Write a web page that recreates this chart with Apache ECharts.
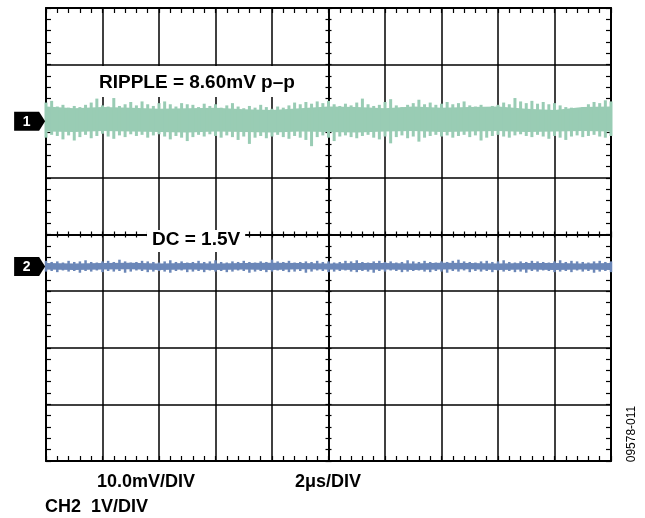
<!DOCTYPE html>
<html>
<head>
<meta charset="utf-8">
<script src="https://cdn.jsdelivr.net/npm/echarts@6/dist/echarts.min.js"></script>
<style>
html,body{margin:0;padding:0;background:#fff;}
#c{width:645px;height:518px;}
</style>
</head>
<body>
<div id="c"></div>
<script>
// ---------------- DATA ----------------
// Channel 1 (ripple, 10.0 mV/DIV): peak extents in mV about the channel reference, one sample every 0.1 DIV (2 µs/DIV)
const ch1Hi = [3.3,3.6,2.6,2.9,2.4,2.7,2.5,2.9,3.3,4.0,
  2.8,2.6,4.1,2.7,3.0,3.4,2.8,3.5,3.0,2.7,
  3.2,3.5,3.0,2.6,3.2,3.0,2.9,2.5,3.1,2.7,
  3.0,2.4,2.8,3.2,2.6,2.3,2.7,2.4,2.9,2.5,
  2.2,2.6,2.4,2.8,3.3,3.0,3.4,3.1,3.5,3.2,
  3.6,3.0,2.7,3.1,2.8,3.3,4.0,3.0,2.7,2.9,
  3.4,3.9,2.8,2.5,2.9,3.2,3.8,3.0,3.3,2.9,
  3.1,3.4,3.0,3.2,3.5,2.8,2.6,2.9,2.5,2.7,
  2.9,3.3,3.0,4.1,3.5,3.2,3.6,3.1,3.4,3.0,
  3.2,2.8,2.5,2.4,2.2,2.5,3.0,3.4,3.2,3.7,3.5];
const ch1Lo = [-2.9,-2.4,-2.6,-3.2,-2.5,-3.4,-2.8,-2.4,-3.0,-2.6,
  -2.2,-2.7,-3.1,-2.5,-2.8,-2.3,-2.6,-2.4,-2.9,-2.5,
  -2.3,-2.7,-3.2,-2.6,-2.9,-3.5,-2.8,-2.4,-2.7,-2.3,
  -2.6,-2.9,-2.5,-2.8,-3.3,-2.7,-4.0,-2.9,-2.6,-3.0,
  -2.7,-2.4,-2.8,-3.1,-2.6,-2.9,-3.3,-4.4,-2.8,-2.5,
  -2.9,-3.5,-2.7,-2.5,-2.8,-3.0,-2.6,-2.4,-2.9,-3.2,
  -2.7,-3.9,-2.8,-2.5,-3.0,-2.7,-3.6,-2.9,-2.6,-2.4,
  -2.7,-2.5,-2.9,-2.6,-2.4,-2.8,-2.5,-3.4,-2.9,-2.6,
  -2.4,-2.7,-2.9,-2.5,-2.3,-2.6,-2.8,-2.4,-2.7,-3.1,
  -2.6,-2.9,-3.3,-2.7,-2.5,-2.8,-2.6,-2.4,-2.7,-2.9,-2.6];
// Channel 1 dense core band (mV), one value every 0.5 DIV
const ch1CoreHi = [2.6,2.3,2.5,2.4,2.2,2.3,2.4,2.1,2.0,2.3,2.6,2.5,2.3,2.6,2.4,2.5,2.6,2.2,2.0,2.5,2.6];
const ch1CoreLo = [-1.8,-1.9,-1.7,-1.8,-1.9,-2.0,-1.8,-1.9,-2.0,-1.8,-1.9,-2.0,-1.8,-1.7,-1.9,-1.8,-1.7,-1.9,-1.8,-1.7,-1.8];

// Channel 2 (DC = 1.5 V, 1 V/DIV): peak extents in volts, one sample every 0.1 DIV
const ch2Hi = [1.60,1.58,1.59,1.57,1.60,1.58,1.59,1.61,1.58,1.57,
  1.59,1.60,1.58,1.62,1.59,1.57,1.58,1.60,1.59,1.58,
  1.57,1.59,1.61,1.58,1.59,1.57,1.58,1.60,1.58,1.59,
  1.61,1.58,1.57,1.59,1.58,1.60,1.58,1.57,1.59,1.58,
  1.62,1.59,1.58,1.60,1.57,1.58,1.59,1.58,1.60,1.58,
  1.59,1.57,1.58,1.60,1.59,1.61,1.58,1.57,1.59,1.60,
  1.58,1.59,1.57,1.58,1.61,1.59,1.58,1.60,1.58,1.57,
  1.59,1.58,1.60,1.62,1.59,1.58,1.57,1.59,1.60,1.58,
  1.59,1.61,1.58,1.57,1.59,1.58,1.60,1.59,1.58,1.57,
  1.59,1.61,1.58,1.60,1.59,1.58,1.57,1.59,1.60,1.58,1.59];
const ch2Lo = [1.41,1.42,1.40,1.43,1.41,1.42,1.39,1.42,1.41,1.43,
  1.40,1.42,1.41,1.42,1.39,1.41,1.43,1.42,1.40,1.41,
  1.42,1.41,1.39,1.42,1.43,1.40,1.41,1.42,1.40,1.43,
  1.41,1.42,1.40,1.41,1.43,1.42,1.39,1.41,1.42,1.40,
  1.41,1.43,1.42,1.40,1.41,1.42,1.39,1.41,1.43,1.42,
  1.40,1.41,1.42,1.43,1.41,1.40,1.42,1.41,1.39,1.42,
  1.41,1.43,1.42,1.40,1.41,1.42,1.43,1.41,1.40,1.42,
  1.41,1.39,1.42,1.41,1.43,1.40,1.42,1.41,1.42,1.40,
  1.43,1.41,1.42,1.40,1.41,1.39,1.42,1.41,1.43,1.42,
  1.40,1.41,1.42,1.40,1.43,1.41,1.42,1.39,1.41,1.42,1.40];
const ch2CoreHi = [1.56,1.555,1.56,1.565,1.555,1.56,1.555,1.56,1.565,1.56,1.555,1.56,1.56,1.555,1.565,1.56,1.555,1.56,1.56,1.555,1.56];
const ch2CoreLo = [1.445,1.44,1.445,1.45,1.44,1.445,1.44,1.445,1.44,1.45,1.445,1.44,1.445,1.44,1.445,1.45,1.44,1.445,1.44,1.445,1.44];

// Channel settings / reference levels (in divisions from screen centre)
const channelNames = ['1','2'];
const channelRefDiv = [2.0, -0.565];
const ch1MvPerDiv = 10;
const ch2VoltsPerDiv = 1;
const ch2Dc = 1.5;

// Labels
const rippleLabel = 'RIPPLE = 8.60mV p–p';
const dcLabel = 'DC = 1.5V';
const ch1ScaleLabel = '10.0mV/DIV';
const timeLabel = '2μs/DIV';
const ch2ScaleLabel = 'CH2  1V/DIV';
const figureId = '09578-011';
const xDivs = 10, yDivs = 8;

// ---------------- BUILD ----------------
const toDiv1 = v => channelRefDiv[0] + v / ch1MvPerDiv;
const toDiv2 = v => channelRefDiv[1] + (v - ch2Dc) / ch2VoltsPerDiv;
function mk(hi, lo, conv) {
  const n = hi.length;
  return hi.map((h, i) => [i * xDivs / (n - 1), conv(lo[i]), conv(h)]);
}
const ch1Spikes = mk(ch1Hi, ch1Lo, toDiv1);
const ch1Core = mk(ch1CoreHi, ch1CoreLo, toDiv1);
const ch2Spikes = mk(ch2Hi, ch2Lo, toDiv2);
const ch2Core = mk(ch2CoreHi, ch2CoreLo, toDiv2);

const GREEN = '#99ccb4';
const BLUE = '#6b87b8';
const FONT = 'Arial, "Liberation Sans", Helvetica, sans-serif';

function bandRender(color) {
  return function (params, api) {
    if (params.dataIndex !== 0) return null;
    const n = params.dataInsideLength;
    const top = [], bot = [];
    for (let i = 0; i < n; i++) {
      top.push(api.coord([api.value(0, i), api.value(2, i)]));
      bot.push(api.coord([api.value(0, i), api.value(1, i)]));
    }
    return {type: 'polygon', shape: {points: top.concat(bot.reverse())}, style: {fill: color}};
  };
}
function spikeRender(color, w) {
  return function (params, api) {
    const a = api.coord([api.value(0), api.value(1)]);
    const b = api.coord([api.value(0), api.value(2)]);
    return {type: 'line', shape: {x1: a[0], y1: a[1], x2: b[0], y2: b[1]}, style: {stroke: color, lineWidth: w}};
  };
}

const rect = {left: 46, top: 8, width: 565, height: 453};
function ax(extra) {
  return Object.assign({
    type: 'value', axisLabel: {show: false},
    axisLine: {show: true, onZero: false, lineStyle: {color: '#000', width: 2}},
    axisTick: {show: true, inside: true, length: 5, lineStyle: {color: '#000', width: 1.2}},
    minorTick: {show: true, splitNumber: 5, length: 5, lineStyle: {color: '#000', width: 1.2}},
    splitLine: {show: false}
  }, extra);
}
function cax(extra, inside) {
  return Object.assign({
    type: 'value', axisLabel: {show: false},
    axisLine: {show: true, onZero: true, lineStyle: {color: '#000', width: 1.5}},
    axisTick: {show: true, inside: inside, length: 3, lineStyle: {color: '#000', width: 1.2}},
    minorTick: {show: true, splitNumber: 5, length: 3, lineStyle: {color: '#000', width: 1.2}},
    splitLine: {show: false}
  }, extra);
}
const split = {show: true, lineStyle: {color: '#000', width: 1.5}};

const txt = (size) => ({fontFamily: FONT, fontSize: size, fontWeight: 'bold', color: '#000'});

const option = {
  backgroundColor: '#fff',
  animation: false,
  grid: [Object.assign({}, rect), Object.assign({}, rect), Object.assign({}, rect)],
  xAxis: [
    ax({gridIndex: 0, position: 'bottom', min: 0, max: xDivs, interval: 1, splitLine: split}),
    ax({gridIndex: 0, position: 'top', min: 0, max: xDivs, interval: 1}),
    cax({gridIndex: 1, min: -xDivs / 2, max: xDivs / 2, interval: 1}, true),
    cax({gridIndex: 2, min: -xDivs / 2, max: xDivs / 2, interval: 1}, false)
  ],
  yAxis: [
    ax({gridIndex: 0, position: 'left', min: -yDivs / 2, max: yDivs / 2, interval: 1, splitLine: split}),
    ax({gridIndex: 0, position: 'right', min: -yDivs / 2, max: yDivs / 2, interval: 1}),
    cax({gridIndex: 1, min: -yDivs / 2, max: yDivs / 2, interval: 1}, true),
    cax({gridIndex: 2, min: -yDivs / 2, max: yDivs / 2, interval: 1}, false)
  ],
  title: [
    {text: rippleLabel, left: 93, top: 66, padding: [7, 6, 5, 6], backgroundColor: '#fff', textStyle: txt(19)},
    {text: dcLabel, left: 147, top: 230, padding: [0, 5, 3, 5], backgroundColor: '#fff', textStyle: txt(19)},
    {text: ch1ScaleLabel, left: 97, top: 473, padding: 0, textStyle: txt(18)},
    {text: timeLabel, left: 295, top: 473, padding: 0, textStyle: txt(18)},
    {text: ch2ScaleLabel, left: 45, top: 498, padding: 0, textStyle: txt(18)}
  ],
  graphic: [
    {type: 'text', x: 632, y: 434, rotation: Math.PI / 2,
     style: {text: figureId, font: '12px ' + FONT, fill: '#000', align: 'center', verticalAlign: 'middle'}}
  ],
  series: [
    {type: 'custom', xAxisIndex: 0, yAxisIndex: 0, data: ch1Core, renderItem: bandRender(GREEN), z: 3},
    {type: 'custom', xAxisIndex: 0, yAxisIndex: 0, data: ch1Spikes, renderItem: spikeRender(GREEN, 3), z: 3},
    {type: 'custom', xAxisIndex: 0, yAxisIndex: 0, data: ch2Core, renderItem: bandRender(BLUE), z: 3},
    {type: 'custom', xAxisIndex: 0, yAxisIndex: 0, data: ch2Spikes, renderItem: spikeRender(BLUE, 2.5), z: 3},
    {type: 'scatter', xAxisIndex: 0, yAxisIndex: 0, clip: false, z: 5,
     symbol: 'path://M0,0 L25,0 L31,9.5 L25,19 L0,19 Z', symbolSize: [31, 19],
     itemStyle: {color: '#000', opacity: 1},
     label: {show: true, position: 'inside', offset: [-3, 1], color: '#fff', fontFamily: FONT, fontWeight: 'bold', fontSize: 14,
             formatter: p => p.name},
     data: channelNames.map((n, i) => ({name: n, value: [-0.29, channelRefDiv[i]]}))}
  ]
};
const chart = echarts.init(document.getElementById('c'));
chart.setOption(option);
</script>
</body>
</html>
